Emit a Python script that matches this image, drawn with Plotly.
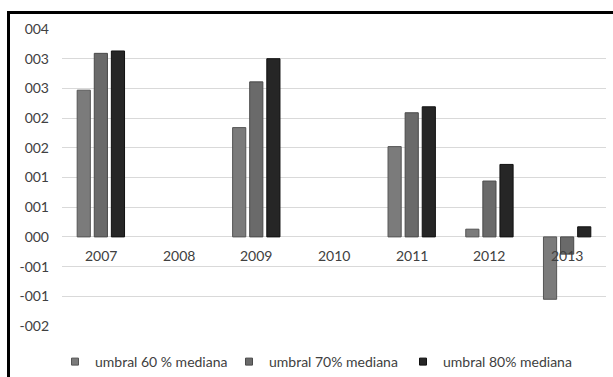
import plotly.graph_objects as go

years = ["2007", "2008", "2009", "2010", "2011", "2012", "2013"]
umbral_60 = [0.00247, None, 0.00184, None, 0.00152, 0.00013, -0.00105]
umbral_70 = [0.00309, None, 0.00261, None, 0.00209, 0.00094, -0.00029]
umbral_80 = [0.00313, None, 0.00300, None, 0.00219, 0.00122, 0.00017]
series_names = ["umbral 60 % mediana", "umbral 70% mediana", "umbral 80% mediana"]
tick_vals = [-0.0015, -0.0010, -0.0005, 0.0, 0.0005, 0.0010, 0.0015, 0.0020, 0.0025, 0.0030, 0.0035]
tick_text = ["-002", "-001", "-001", "000", "001", "001", "002", "002", "003", "003", "004"]

colors = ["#7b7b7b", "#6a6a6a", "#262626"]
edges = ["#555555", "#4a4a4a", "#111111"]
FONT = "Lato"
TXT = "#404040"

fig = go.Figure()
for name, vals, c, e in zip(series_names, [umbral_60, umbral_70, umbral_80], colors, edges):
    fig.add_trace(go.Bar(x=years, y=vals, name=name, marker=dict(color=c, line=dict(color=e, width=1)),
                         showlegend=False))
# legend entries with small square markers
for name, c, e in zip(series_names, colors, edges):
    fig.add_trace(go.Scatter(x=[None], y=[None], mode="markers", name=name,
                             marker=dict(symbol="square", size=7, color=c, line=dict(color=e, width=1))))

W, H = 613, 377
ml, mr, mt, mb = 62, 7, 29, 51
pw, ph = W - ml - mr, H - mt - mb

def px_x(p):
    return (p - ml) / pw

def px_y(p):
    return (H - mb - p) / ph

fig.update_layout(
    width=W, height=H,
    margin=dict(l=ml, r=mr, t=mt, b=mb, autoexpand=False),
    paper_bgcolor="white", plot_bgcolor="white",
    barmode="group", bargap=0.34, bargroupgap=0.23,
    font=dict(family=FONT, size=14, color=TXT),
    xaxis=dict(type="category", showticklabels=False, showgrid=False, zeroline=False, showline=False,
               categoryorder="array", categoryarray=years, range=[-0.5, 6.5]),
    yaxis=dict(range=[-0.0015, 0.0035], tickvals=tick_vals, ticktext=tick_text,
               showgrid=True, gridcolor="#d9d9d9", gridwidth=1, zeroline=False, showline=False,
               ticklabelstandoff=12, tickfont=dict(family=FONT, size=14, color=TXT)),
    legend=dict(orientation="h", x=px_x(55), y=px_y(346), xanchor="left", yanchor="top",
                entrywidth=129, entrywidthmode="pixels",
                font=dict(family=FONT, size=14, color=TXT), bgcolor="rgba(0,0,0,0)"),
    shapes=[dict(type="rect", xref="paper", yref="paper",
                 x0=px_x(8.5), x1=px_x(625), y0=px_y(390), y1=px_y(12.5),
                 line=dict(color="black", width=3), fillcolor="rgba(0,0,0,0)", layer="above")],
)
for i, yr in enumerate(years):
    fig.add_annotation(x=i, y=0, xref="x", yref="y", text=yr, showarrow=False,
                       yshift=-19, font=dict(family=FONT, size=14, color=TXT))

fig.write_html("out.html")
